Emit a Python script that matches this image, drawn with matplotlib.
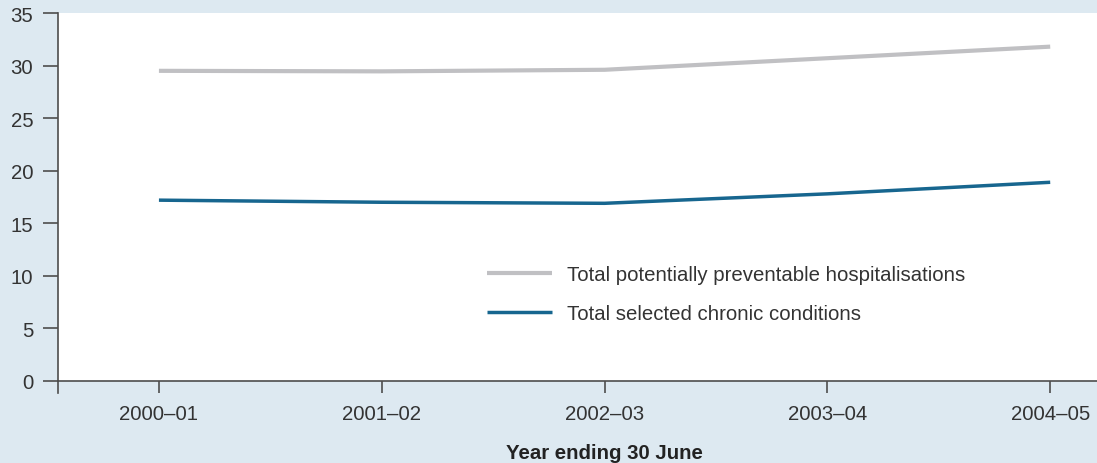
import numpy as np
import matplotlib.pyplot as plt

# --- Data ---
years = ["2000\u201301", "2001\u201302", "2002\u201303", "2003\u201304", "2004\u201305"]
preventable = [29.5, 29.45, 29.6, 30.7, 31.8]
chronic = [17.2, 17.0, 16.9, 17.8, 18.9]
y_ticks = [0, 5, 10, 15, 20, 25, 30, 35]

plt.rcParams['font.family'] = ['Liberation Sans', 'DejaVu Sans']

bg = "#dde9f1"
txt = "#333333"
axis_col = "#4d4d4d"
fs = 14.7

fig = plt.figure(figsize=(10.97, 4.64), dpi=100, facecolor=bg)
ax = fig.add_axes([58 / 1097, 82 / 464, 1 - 58 / 1097, 368 / 464])
ax.set_facecolor("white")

x = np.arange(len(years))
ax.plot(x, preventable, color="#c0c0c3", lw=3.0, solid_capstyle="butt",
        label="Total potentially preventable hospitalisations")
ax.plot(x, chronic, color="#17668f", lw=2.5, solid_capstyle="butt",
        label="Total selected chronic conditions")

ax.set_xlim(-0.453, 4.21)
ax.set_ylim(0, 35)
ax.set_yticks(y_ticks)
ax.set_xticks(x)
ax.set_xticklabels(years)

for s in ["top", "right"]:
    ax.spines[s].set_visible(False)
for s in ["left", "bottom"]:
    ax.spines[s].set_color(axis_col)
    ax.spines[s].set_linewidth(1.2)

ax.tick_params(axis="y", direction="out", length=10.8, width=1.2, color=axis_col,
               labelsize=fs, labelcolor=txt, pad=7)
ax.tick_params(axis="x", direction="out", length=8.6, width=1.2, color=axis_col,
               labelsize=fs, labelcolor=txt, pad=8)

# left spine runs a bit below zero
ax.plot([0, 0], [-12 / 368, 0], transform=ax.transAxes, color=axis_col,
        lw=1.2, clip_on=False)

ax.text(2, -72 / 368, "Year ending 30 June", transform=ax.get_xaxis_transform(),
        ha="center", va="center", fontsize=fs, fontweight="bold", color="#222222")

leg = ax.legend(loc="center left", bbox_to_anchor=(0.405, 0.236), frameon=False,
                fontsize=fs, handlelength=3.2, handletextpad=0.73,
                labelspacing=1.0, borderaxespad=0)
for t in leg.get_texts():
    t.set_color(txt)

fig.savefig("out.png", dpi=100, facecolor=bg)
